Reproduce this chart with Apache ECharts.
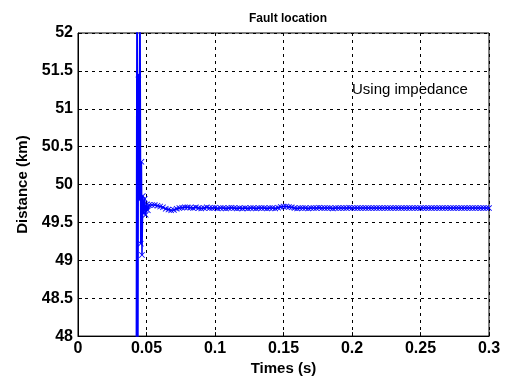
<!DOCTYPE html>
<html>
<head>
<meta charset="utf-8">
<script src="https://cdn.jsdelivr.net/npm/echarts@6/dist/echarts.min.js"></script>
<style>
html,body{margin:0;padding:0;background:#fff;}
#chart{width:511px;height:381px;}
</style>
</head>
<body>
<div id="chart"></div>
<script>
// Title and labels
const titleText = "Fault location";
const xName = "Times (s)";
const yName = "Distance (km)";
const annotation = "Using impedance";

// Axis ticks
const xTicks = [0, 0.05, 0.1, 0.15, 0.2, 0.25, 0.3];
const yTicks = [48, 48.5, 49, 49.5, 50, 50.5, 51, 51.5, 52];

// Transient part (time in s, distance in km)
const tTransient = [0.0425, 0.0431, 0.0437, 0.0441, 0.0446, 0.0452, 0.0458, 0.0463, 0.0467, 0.0473, 0.0480, 0.0487, 0.0494, 0.0502, 0.0510, 0.0520];
const dTransient = [47.0, 53.5, 47.2, 51.45, 49.80, 53.0, 49.22, 50.3, 49.07, 49.85, 49.62, 49.81, 49.60, 49.74, 49.66, 49.73];

// Settled part: time from 0.054 s, step 0.002 s
const tSettleStart = 0.054;
const tSettleStep = 0.002;
const dSettle = [
  49.73, 49.73, 49.72, 49.71, 49.70, 49.68, 49.67, 49.66, 49.665, 49.68,
  49.69, 49.695, 49.70, 49.70, 49.695, 49.69, 49.70, 49.69, 49.685, 49.69,
  49.70, 49.69, 49.69, 49.695, 49.685, 49.69, 49.69, 49.685, 49.69, 49.695,
  49.69, 49.685, 49.69, 49.685, 49.69, 49.685, 49.69, 49.69, 49.685, 49.69,
  49.69, 49.69, 49.685, 49.69, 49.69, 49.685, 49.695, 49.705, 49.71, 49.71,
  49.705, 49.70, 49.69, 49.685, 49.69, 49.69, 49.69, 49.685, 49.69, 49.69,
  49.69, 49.695, 49.69, 49.69, 49.69, 49.69, 49.685, 49.69, 49.69, 49.69,
  49.69, 49.69, 49.695, 49.69, 49.69, 49.69, 49.69, 49.69, 49.69, 49.69,
  49.69, 49.69, 49.69, 49.69, 49.69, 49.69, 49.69, 49.69, 49.69, 49.69,
  49.69, 49.69, 49.69, 49.69, 49.69, 49.69, 49.69, 49.69, 49.69, 49.69,
  49.69, 49.69, 49.69, 49.69, 49.69, 49.69, 49.69, 49.69, 49.69, 49.69,
  49.69, 49.69, 49.69, 49.69, 49.69, 49.69, 49.69, 49.69, 49.69, 49.69,
  49.69, 49.69, 49.69, 49.69
];

const seriesData = [];
for (let i = 0; i < tTransient.length; i++) seriesData.push([tTransient[i], dTransient[i]]);
for (let i = 0; i < dSettle.length; i++) seriesData.push([+(tSettleStart + i * tSettleStep).toFixed(4), dSettle[i]]);

const font = '"Liberation Sans", Arial, sans-serif';
const chart = echarts.init(document.getElementById('chart'));
chart.setOption({
  animation: false,
  backgroundColor: '#fff',
  title: {
    text: titleText, left: 283, top: 8, textAlign: 'center',
    textStyle: { fontFamily: font, fontSize: 12, fontWeight: 'bold', color: '#000' }
  },
  grid: { left: 78, right: 22, top: 33, bottom: 43, show: true, borderColor: '#000', borderWidth: 1, backgroundColor: '#fff' },
  xAxis: {
    type: 'value', min: 0, max: 0.3, interval: 0.05,
    name: xName, nameLocation: 'middle', nameGap: 24,
    nameTextStyle: { fontFamily: font, fontSize: 15, fontWeight: 'bold', color: '#000' },
    axisLine: { show: true, lineStyle: { color: '#000' } },
    axisTick: { inside: true, length: 4, lineStyle: { color: '#000' } },
    axisLabel: { fontFamily: font, fontSize: 16, fontWeight: 'bold', color: '#000', margin: 4,
      formatter: v => xTicks.includes(+v.toFixed(2)) ? String(+v.toFixed(2)) : '' },
    splitLine: { show: true, lineStyle: { color: '#000', type: [3, 4], width: 1 } }
  },
  yAxis: {
    type: 'value', min: 48, max: 52, interval: 0.5,
    name: yName, nameLocation: 'middle', nameGap: 48, nameRotate: 90,
    nameTextStyle: { fontFamily: font, fontSize: 15, fontWeight: 'bold', color: '#000' },
    axisLine: { show: true, lineStyle: { color: '#000' } },
    axisTick: { inside: true, length: 4, lineStyle: { color: '#000' } },
    axisLabel: { fontFamily: font, fontSize: 16, fontWeight: 'bold', color: '#000', margin: 5,
      formatter: v => yTicks.includes(+v.toFixed(1)) ? String(+v.toFixed(1)) : '' },
    splitLine: { show: true, lineStyle: { color: '#000', type: [3, 4], width: 1 } }
  },
  series: [{
    type: 'line',
    data: seriesData,
    clip: true,
    showSymbol: true,
    symbol: 'path://M0,1L1,0L5,4L9,0L10,1L6,5L10,9L9,10L5,6L1,10L0,9L4,5Z',
    symbolSize: 6,
    itemStyle: { color: '#0000ff' },
    lineStyle: { color: '#0000ff', width: 1.5 }
  }],
  graphic: [{
    type: 'text', left: 352, top: 82,
    style: { text: annotation, fontFamily: font, fontSize: 15, fill: '#000' }
  }]
});
</script>
</body>
</html>
